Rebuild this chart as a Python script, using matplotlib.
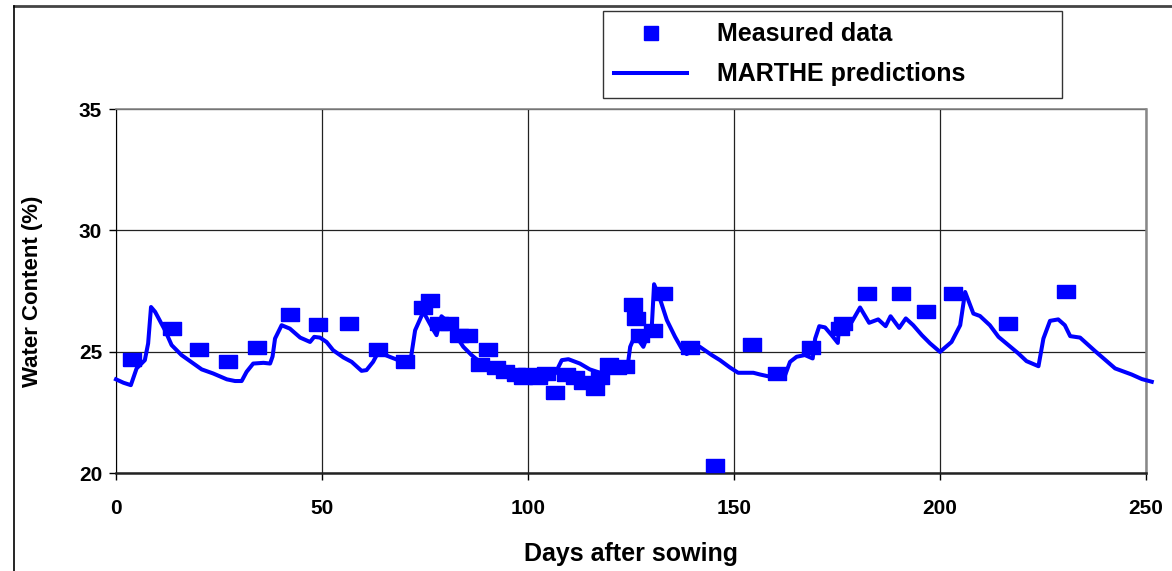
import matplotlib.pyplot as plt
from matplotlib.lines import Line2D

plt.rcParams['font.family'] = ['Liberation Sans', 'DejaVu Sans']
plt.rcParams['font.weight'] = 'bold'

# Measured water content (%)
measured_days = [4.0, 13.5, 20.1, 27.3, 34.3, 42.2, 49.0, 56.6, 63.5, 70.2,
                 74.4, 76.2, 78.4, 80.9, 83.3, 85.5, 88.3, 90.4, 92.2, 94.4,
                 97.2, 98.9, 99.7, 102.5, 104.4, 106.5, 109.2, 111.4, 113.4, 116.3,
                 117.5, 119.7, 121.5, 123.5, 125.6, 126.2, 127.2, 130.4, 132.7, 139.3,
                 145.4, 154.3, 160.4, 168.7, 175.7, 176.5, 182.4, 190.5, 196.6, 203.2,
                 216.5, 230.7]
measured_wc = [24.69, 25.98, 25.12, 24.62, 25.2, 26.54, 26.16, 26.19, 25.1, 24.6,
               26.84, 27.12, 26.19, 26.19, 25.7, 25.7, 24.49, 25.1, 24.35, 24.21,
               24.07, 23.96, 24.07, 23.94, 24.13, 23.35, 24.07, 23.96, 23.76, 23.49,
               23.96, 24.51, 24.35, 24.4, 26.98, 26.37, 25.68, 25.88, 27.42, 25.2,
               20.33, 25.31, 24.13, 25.2, 25.98, 26.2, 27.42, 27.42, 26.68, 27.42,
               26.19, 27.49]

# MARTHE model predictions
model_days = [0, 1.8, 3.6, 5.0, 7.0, 7.8, 8.5, 9.5, 11.9, 13.5,
              15.9, 18.8, 20.8, 23.6, 26.9, 28.9, 30.5, 31.7, 33.3, 35.8,
              37.4, 38.0, 38.6, 40.2, 42.2, 44.7, 47.1, 48.1, 49.5, 51.1,
              52.7, 55.2, 57.2, 59.6, 60.8, 62.4, 63.7, 66.1, 68.5, 71.5,
              72.6, 74.6, 76.6, 77.8, 79.0, 80.7, 82.7, 84.3, 86.3, 88.3,
              92.4, 96.4, 100.5, 104.5, 106.6, 108.2, 109.8, 112.6, 115.0, 117.5,
              122.3, 124.0, 124.8, 126.0, 128.0, 129.2, 130.0, 130.6, 132.0, 133.7,
              135.7, 137.3, 138.5, 141.7, 144.6, 146.6, 149.0, 151.0, 154.7, 156.3,
              157.9, 160.8, 162.4, 163.6, 165.2, 167.2, 169.1, 169.7, 170.7, 172.1,
              173.7, 175.2, 175.6, 177.0, 178.6, 180.6, 182.8, 185.0, 186.8, 188.0,
              190.1, 191.7, 193.5, 195.6, 197.6, 200.0, 202.8, 204.9, 206.1, 208.1,
              209.7, 212.1, 214.2, 216.6, 219.0, 221.0, 223.9, 225.1, 226.7, 228.7,
              230.3, 231.6, 234.0, 237.6, 242.5, 246.5, 249.0, 251.4]
model_wc = [23.86, 23.72, 23.62, 24.31, 24.65, 25.34, 26.84, 26.64, 25.88, 25.27,
            24.86, 24.51, 24.27, 24.1, 23.86, 23.79, 23.79, 24.17, 24.51, 24.54,
            24.51, 24.8, 25.54, 26.09, 25.95, 25.58, 25.4, 25.61, 25.58, 25.4,
            25.06, 24.76, 24.58, 24.21, 24.24, 24.58, 24.99, 24.81, 24.65, 24.65,
            25.88, 26.64, 26.02, 25.68, 26.46, 26.2, 25.61, 25.2, 24.86, 24.58,
            24.4, 24.17, 23.96, 23.83, 24.1, 24.65, 24.69, 24.51, 24.27, 24.13,
            24.35, 24.17, 25.2, 25.68, 25.2, 25.75, 25.88, 27.78, 27.19, 26.3,
            25.61, 25.13, 24.9, 25.2, 24.86, 24.65, 24.35, 24.13, 24.13, 24.06,
            24.0, 23.9, 24.03, 24.58, 24.79, 24.86, 24.72, 25.54, 26.05, 26.0,
            25.68, 25.36, 26.23, 26.33, 26.23, 26.82, 26.19, 26.33, 26.05, 26.46,
            25.98, 26.37, 26.09, 25.68, 25.34, 24.99, 25.4, 26.09, 27.46, 26.57,
            26.47, 26.09, 25.61, 25.27, 24.93, 24.61, 24.4, 25.54, 26.27, 26.33,
            26.09, 25.64, 25.58, 25.03, 24.31, 24.06, 23.87, 23.76]

x_ticks = [0, 50, 100, 150, 200, 250]
y_ticks = [20, 25, 30, 35]

W, H = 1172, 571
fig = plt.figure(figsize=(W / 100, H / 100), dpi=100)
ax = fig.add_axes([116 / W, 1 - 473 / H, (1146 - 116) / W, (473 - 109) / H])

rect = [(-1, -0.72), (1, -0.72), (1, 0.72), (-1, 0.72), (-1, -0.72)]
pts, = ax.plot(measured_days, measured_wc, linestyle='none', marker=rect,
               markersize=13, color='#0000ff', label='Measured data', zorder=3)
line, = ax.plot(model_days, model_wc, color='#0000ff', linewidth=2.9,
                label='MARTHE predictions', clip_on=False, zorder=4)

ax.set_xlim(0, 250)
ax.set_ylim(20, 35)
ax.set_xticks(x_ticks)
ax.set_yticks(y_ticks)
ax.grid(True, color='#222222', linewidth=0.9)
ax.set_axisbelow(True)
ax.tick_params(labelsize=15, length=5, width=1)
ax.tick_params(axis='x', pad=14)
ax.tick_params(axis='y', pad=5)
for lab in ax.get_xticklabels() + ax.get_yticklabels():
    lab.set_fontweight('bold')
ax.spines['left'].set_color('black')
ax.spines['bottom'].set_color('#222222')
ax.spines['bottom'].set_linewidth(1.8)
ax.spines['right'].set_color('#888888')
ax.spines['right'].set_linewidth(1.8)
ax.spines['top'].set_color('#888888')
ax.spines['top'].set_linewidth(1.2)

ax.set_xlabel('Days after sowing', fontsize=18, fontweight='bold', labelpad=17)
ax.set_ylabel('Water Content (%)', fontsize=16, fontweight='bold', labelpad=26)

leg_marker = Line2D([], [], linestyle='none', marker='s', markersize=10,
                    color='#0000ff')
leg = fig.legend([leg_marker, line], ['Measured data', 'MARTHE predictions'],
                 loc='upper left',
                 bbox_to_anchor=(603 / W, 1 - 95 / H, (1062 - 603) / W, 84 / H),
                 mode='expand', frameon=True, fancybox=False, edgecolor='black',
                 prop={'size': 18, 'weight': 'bold'}, handlelength=2.9,
                 handletextpad=1.2, borderpad=0.45, labelspacing=0.65,
                 borderaxespad=0)
leg.get_frame().set_linewidth(1.0)

# outer chart border
fig.add_artist(Line2D([14 / W, 1], [1 - 6 / H, 1 - 6 / H], color='#444444',
                      linewidth=2, transform=fig.transFigure))
fig.add_artist(Line2D([14 / W, 14 / W], [0, 1 - 6 / H], color='black',
                      linewidth=1.2, transform=fig.transFigure))

fig.savefig('out.png', dpi=100)
